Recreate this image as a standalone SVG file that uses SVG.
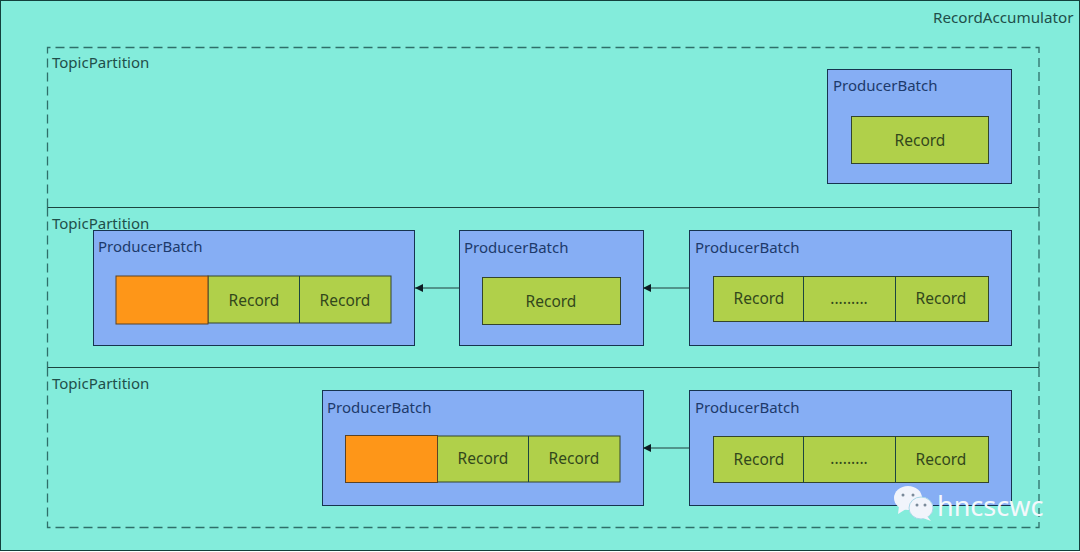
<svg xmlns="http://www.w3.org/2000/svg" width="1080" height="552" viewBox="0 0 1080 552">
<style>
text{font-family:"Noto Sans","Open Sans",sans-serif;font-size:15px;fill:#1f4f4a}
.b{fill:#86aef4;stroke:#16344f;stroke-width:1}
.r{fill:#b0d04a;stroke:#33452c;stroke-width:1}
.o{fill:#fe9618;stroke:#5a4326;stroke-width:1}
.rt{fill:#33481c;text-anchor:middle;font-size:15.500px}
.p{fill:none;stroke:#2f6f6a;stroke-width:1.3;stroke-dasharray:9 5}
.s{stroke:#1c4440;stroke-width:1;fill:none}
.c{stroke:#1f3d3d;stroke-width:1;fill:none;marker-end:url(#a)}
.t{fill:#1d3a6b}
</style>
<defs><marker id="a" markerWidth="9" markerHeight="8" refX="8" refY="4" orient="auto" markerUnits="userSpaceOnUse"><path d="M0 0L8 4L0 8Z" fill="#0c1c24"/></marker></defs>
<rect x="0.5" y="0.5" width="1079" height="550" fill="#83ecdb" stroke="#12403c"/>
<text x="933" y="23" id="accumulator-label" style="font-size:15.200px">RecordAccumulator</text>
<g id="partition-1"><path class="p" d="M47.5 207.500V47.500H1039V207.500"/><text x="52" y="68">TopicPartition</text></g>
<g id="partition-2"><path class="p" d="M47.500 207.500V367.500M1039 207.500V367.500"/><path class="s" d="M47.500 207.500H1039"/><text x="52" y="229">TopicPartition</text></g>
<g id="partition-3"><path class="p" d="M47.500 367.500V527.500H1039V367.500"/><path class="s" d="M47.500 367.500H1039"/><text x="52" y="389">TopicPartition</text></g>
<g id="batch-1"><rect class="b" x="827.500" y="69.500" width="184" height="114"/><text class="t" x="833" y="91">ProducerBatch</text><rect class="r" x="851.500" y="116.500" width="137" height="47"/><text class="rt" x="920" y="146">Record</text></g>
<g id="batch-2"><rect class="b" x="93.500" y="230.500" width="321" height="115"/><text class="t" x="98" y="252">ProducerBatch</text><rect class="r" x="208" y="276" width="183" height="47"/><path class="s" d="M299.500 276V323"/><rect class="o" x="116" y="276" width="92" height="48"/><text class="rt" x="254" y="306">Record</text><text class="rt" x="345" y="306">Record</text></g>
<g id="batch-3"><rect class="b" x="459.500" y="230.500" width="184" height="115"/><text class="t" x="464" y="253">ProducerBatch</text><rect class="r" x="482.500" y="277.500" width="138" height="47"/><text class="rt" x="551" y="307">Record</text></g>
<g id="batch-4"><rect class="b" x="689.500" y="230.500" width="322" height="115"/><text class="t" x="695" y="253">ProducerBatch</text><rect class="r" x="713.500" y="276.500" width="275" height="45"/><path class="s" d="M803.500 276.500V321.500M895.500 276.500V321.500"/><text class="rt" x="759" y="304">Record</text><text class="rt" x="849" y="304">.........</text><text class="rt" x="941" y="304">Record</text></g>
<g id="batch-5"><rect class="b" x="322.500" y="390.500" width="321" height="115"/><text class="t" x="327" y="413">ProducerBatch</text><rect class="r" x="437" y="436" width="183" height="46"/><path class="s" d="M528.500 436V482"/><rect class="o" x="345.500" y="435.500" width="92" height="47"/><text class="rt" x="483" y="464">Record</text><text class="rt" x="574" y="464">Record</text></g>
<g id="batch-6"><rect class="b" x="689.500" y="390.500" width="322" height="115"/><text class="t" x="695" y="413">ProducerBatch</text><rect class="r" x="713.500" y="436.500" width="275" height="46"/><path class="s" d="M803.500 436.500V482.500M895.500 436.500V482.500"/><text class="rt" x="759" y="465">Record</text><text class="rt" x="849" y="464">.........</text><text class="rt" x="941" y="465">Record</text></g>
<g id="connectors"><path class="c" d="M460 288H415"/><path class="c" d="M690 288H643"/><path class="c" d="M690 448H643"/></g>
<g id="watermark"><ellipse cx="908" cy="498" rx="14" ry="12" fill="#f1f4fb"/><path d="M899 506L898 514L906 509Z" fill="#f1f4fb"/><ellipse cx="921" cy="508" rx="12" ry="11" fill="#f1f4fb" stroke="#a9d8e8" stroke-width="1"/><path d="M927 516L931 521L923 518Z" fill="#f1f4fb"/><circle cx="903" cy="495" r="1.500" fill="#7a8a9a"/><circle cx="913" cy="495" r="1.500" fill="#7a8a9a"/><circle cx="917" cy="505" r="1.500" fill="#7a8a9a"/><circle cx="925" cy="505" r="1.500" fill="#7a8a9a"/><text x="937" y="516" style="font-size:27px;fill:#f4f8fc">hncscwc</text></g>
</svg>
